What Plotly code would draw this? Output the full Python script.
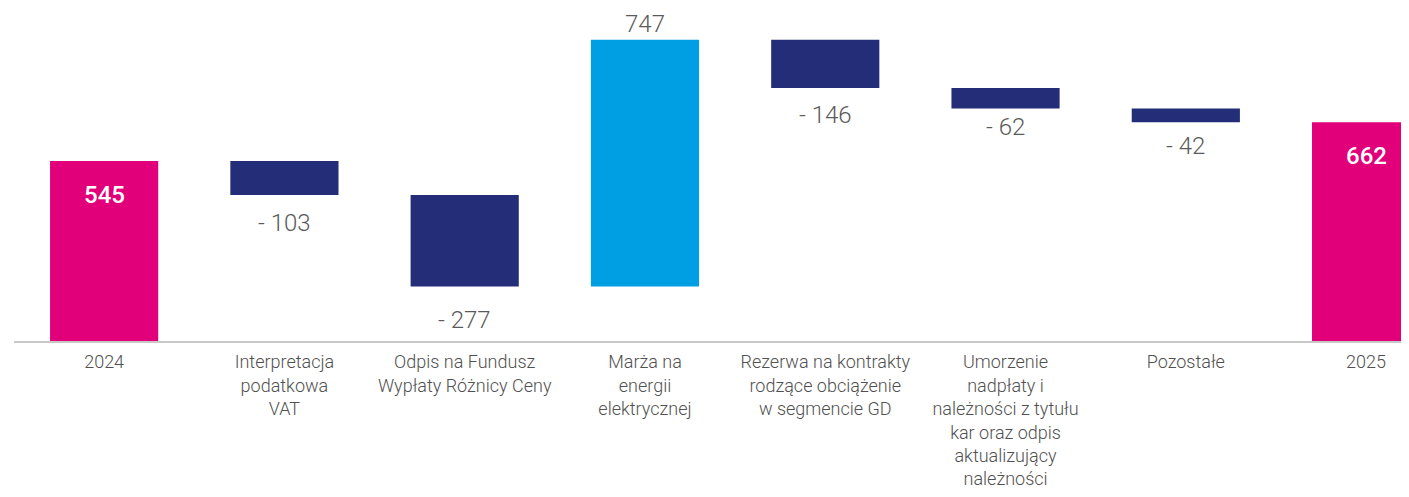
import plotly.graph_objects as go

categories = [
    "2024",
    "Interpretacja<br>podatkowa<br>VAT",
    "Odpis na Fundusz<br>Wypłaty Różnicy Ceny",
    "Marża na<br>energii<br>elektrycznej",
    "Rezerwa na kontrakty<br>rodzące obciążenie<br>w segmencie GD",
    "Umorzenie<br>nadpłaty i<br>należności z tytułu<br>kar oraz odpis<br>aktualizujący<br>należności",
    "Pozostałe",
    "2025",
]
values = [545, -103, -277, 747, -146, -62, -42, 662]
measures = ["absolute", "relative", "relative", "relative", "relative", "relative", "relative", "total"]

PINK = "#E2007A"
NAVY = "#232D78"
BLUE = "#009FE3"
GREY = "#5A5A5A"
FONT = "Roboto, Lato, sans-serif"

fig = go.Figure()
fig.add_trace(go.Waterfall(
    x=list(range(len(categories))),
    y=values,
    measure=measures,
    width=0.6,
    textposition="none",
    connector={"visible": False},
    increasing={"marker": {"color": BLUE}},
    decreasing={"marker": {"color": NAVY}},
    totals={"marker": {"color": PINK}},
    hoverinfo="skip",
))

# label offsets (px) from the bar end
label_offsets = [-34, -28, -33, 16, -27, -19, -24, -34]
level = 0
for i, (v, m) in enumerate(zip(values, measures)):
    if m == "absolute":
        level = v
        end = v
    elif m == "total":
        end = level
    else:
        level += v
        end = level
    if m in ("absolute", "total"):
        txt, col, weight = f"{v}", "white", 500
    elif v < 0:
        txt, col, weight = f"- {abs(v)}", GREY, 300
    else:
        txt, col, weight = f"{v}", GREY, 300
    fig.add_annotation(
        x=i, y=end, text=txt, showarrow=False, yanchor="middle",
        yshift=label_offsets[i],
        font=dict(color=col, size=24, family=FONT, weight=weight),
    )

# the page body adds an 8px offset, margins account for it
fig.update_layout(
    width=1409, height=497,
    margin=dict(l=6, r=8, t=0, b=164, autoexpand=False),
    plot_bgcolor="white", paper_bgcolor="white",
    showlegend=False,
    font=dict(family=FONT, color=GREY),
    xaxis=dict(
        tickmode="array", tickvals=list(range(len(categories))), ticktext=categories,
        range=[-0.5, 7.238], showgrid=False, zeroline=False, automargin=False,
        showline=True, linecolor="#C8C8C8", linewidth=1.5,
        tickfont=dict(size=18, color="#505050", weight=300), ticks="",
        ticklabelstandoff=4,
    ),
    yaxis=dict(range=[0, 1008.2], visible=False, showgrid=False, zeroline=False,
               automargin=False),
)

fig.write_html("out.html")
